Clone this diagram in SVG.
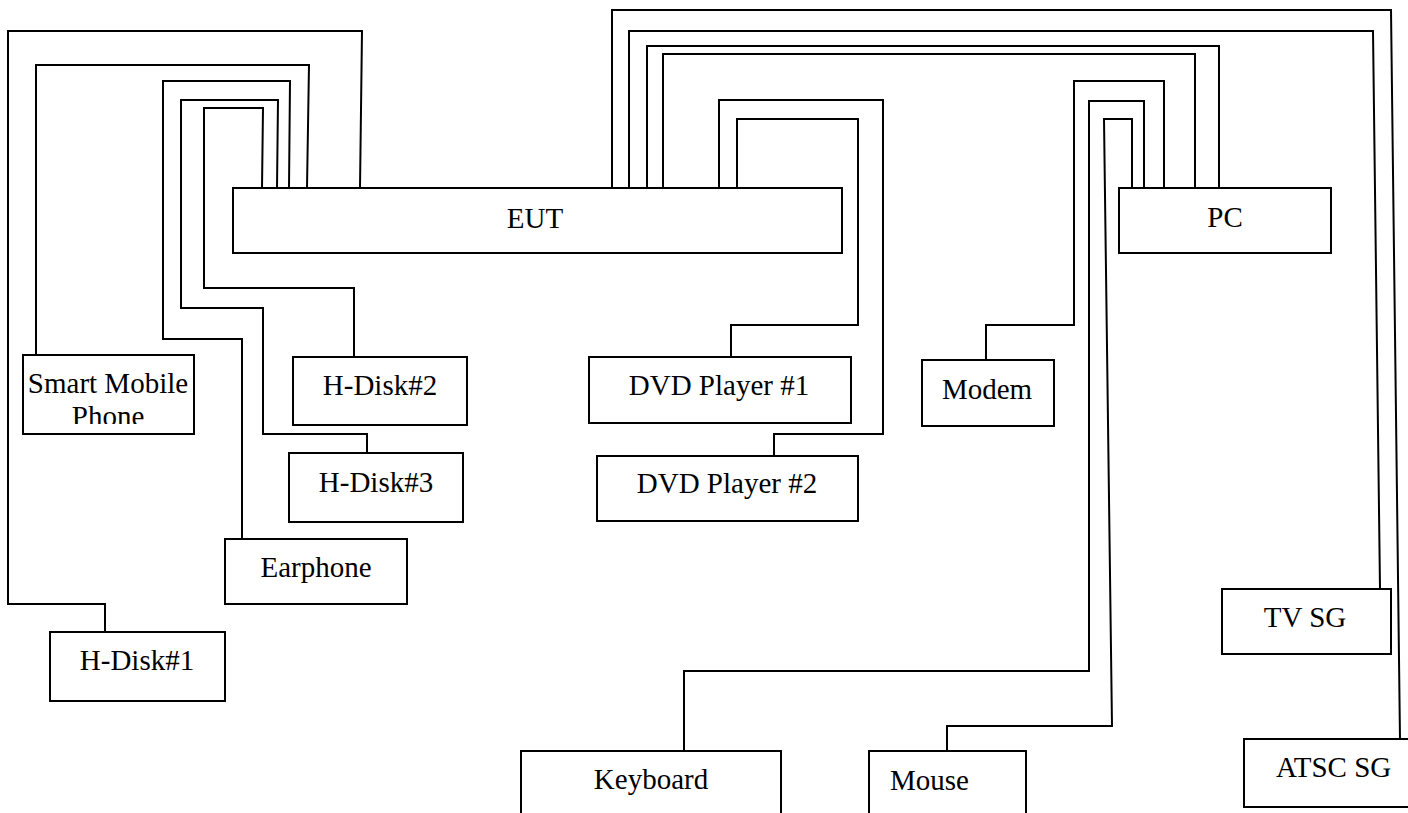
<svg xmlns="http://www.w3.org/2000/svg" width="1408" height="813" viewBox="0 0 1408 813">
<style>
rect.box{fill:#fff;stroke:#000;stroke-width:2}
.c path{fill:none;stroke:#000;stroke-width:2}
text{font-family:"Liberation Serif","Times New Roman",serif;font-size:29px;fill:#000}
.m{text-anchor:middle}
</style>
<defs><clipPath id="clipPhone"><rect x="23" y="355" width="171" height="69"/></clipPath></defs>
<rect width="1408" height="813" fill="#fff"/>
<g class="c" id="connectors">
<path d="M360,188 L362,31 L8,31 L8,604 L105,604 L105,632"/>
<path d="M307,188 L309,65 L36,65 L36,355"/>
<path d="M289,188 L290,81 L163,81 L163,339 L242,339 L242,539"/>
<path d="M277,188 L278,100 L181,100 L181,308 L263,308 L263,434 L367,434 L367,453"/>
<path d="M262,188 L263,108 L204,108 L204,288 L354,288 L354,357"/>
<path d="M612,188 L612,10 L1391,10 L1400,739"/>
<path d="M629,188 L629,31 L1373,31 L1380,589"/>
<path d="M647,188 L647,46 L1219,46 L1219,188"/>
<path d="M663,188 L663,54 L1195,54 L1195,188"/>
<path d="M719,188 L719,100 L883,100 L883,434 L774,434 L774,456"/>
<path d="M737,188 L737,119 L858,119 L858,325 L731,325 L731,357"/>
<path d="M1164,188 L1164,81 L1074,81 L1074,325 L986,325 L986,360"/>
<path d="M1144,188 L1144,101 L1089,101 L1089,671 L684,671 L684,751"/>
<path d="M1132,188 L1132,119 L1104,119 L1112,726 L947,726 L947,751"/>
</g>
<g id="eut"><rect class="box" x="233" y="188" width="609" height="65"/><text class="m" x="535" y="228">EUT</text></g>
<g id="pc"><rect class="box" x="1119" y="188" width="212" height="65"/><text class="m" x="1225" y="227">PC</text></g>
<g id="smart-mobile-phone"><rect class="box" x="23" y="355" width="171" height="79"/><g clip-path="url(#clipPhone)"><text class="m" x="108" y="393">Smart Mobile</text><text class="m" x="108" y="426">Phone</text></g></g>
<g id="h-disk-2"><rect class="box" x="293" y="357" width="174" height="68"/><text class="m" x="380" y="395">H-Disk#2</text></g>
<g id="h-disk-3"><rect class="box" x="289" y="453" width="174" height="69"/><text class="m" x="376" y="492">H-Disk#3</text></g>
<g id="earphone"><rect class="box" x="225" y="539" width="182" height="65"/><text class="m" x="316" y="577">Earphone</text></g>
<g id="h-disk-1"><rect class="box" x="50" y="632" width="175" height="69"/><text class="m" x="137" y="670">H-Disk#1</text></g>
<g id="dvd-player-1"><rect class="box" x="589" y="357" width="262" height="66"/><text class="m" x="719" y="395">DVD Player #1</text></g>
<g id="dvd-player-2"><rect class="box" x="597" y="456" width="261" height="65"/><text class="m" x="727" y="493">DVD Player #2</text></g>
<g id="modem"><rect class="box" x="922" y="360" width="132" height="66"/><text class="m" x="987" y="399">Modem</text></g>
<g id="tv-sg"><rect class="box" x="1222" y="589" width="169" height="65"/><text class="m" x="1305" y="627">TV SG</text></g>
<g id="atsc-sg"><rect class="box" x="1244" y="739" width="170" height="68"/><text x="1276" y="777">ATSC SG</text></g>
<g id="keyboard"><rect class="box" x="521" y="751" width="260" height="80"/><text class="m" x="651" y="789">Keyboard</text></g>
<g id="mouse"><rect class="box" x="869" y="751" width="157" height="80"/><text x="890" y="790">Mouse</text></g>
</svg>
